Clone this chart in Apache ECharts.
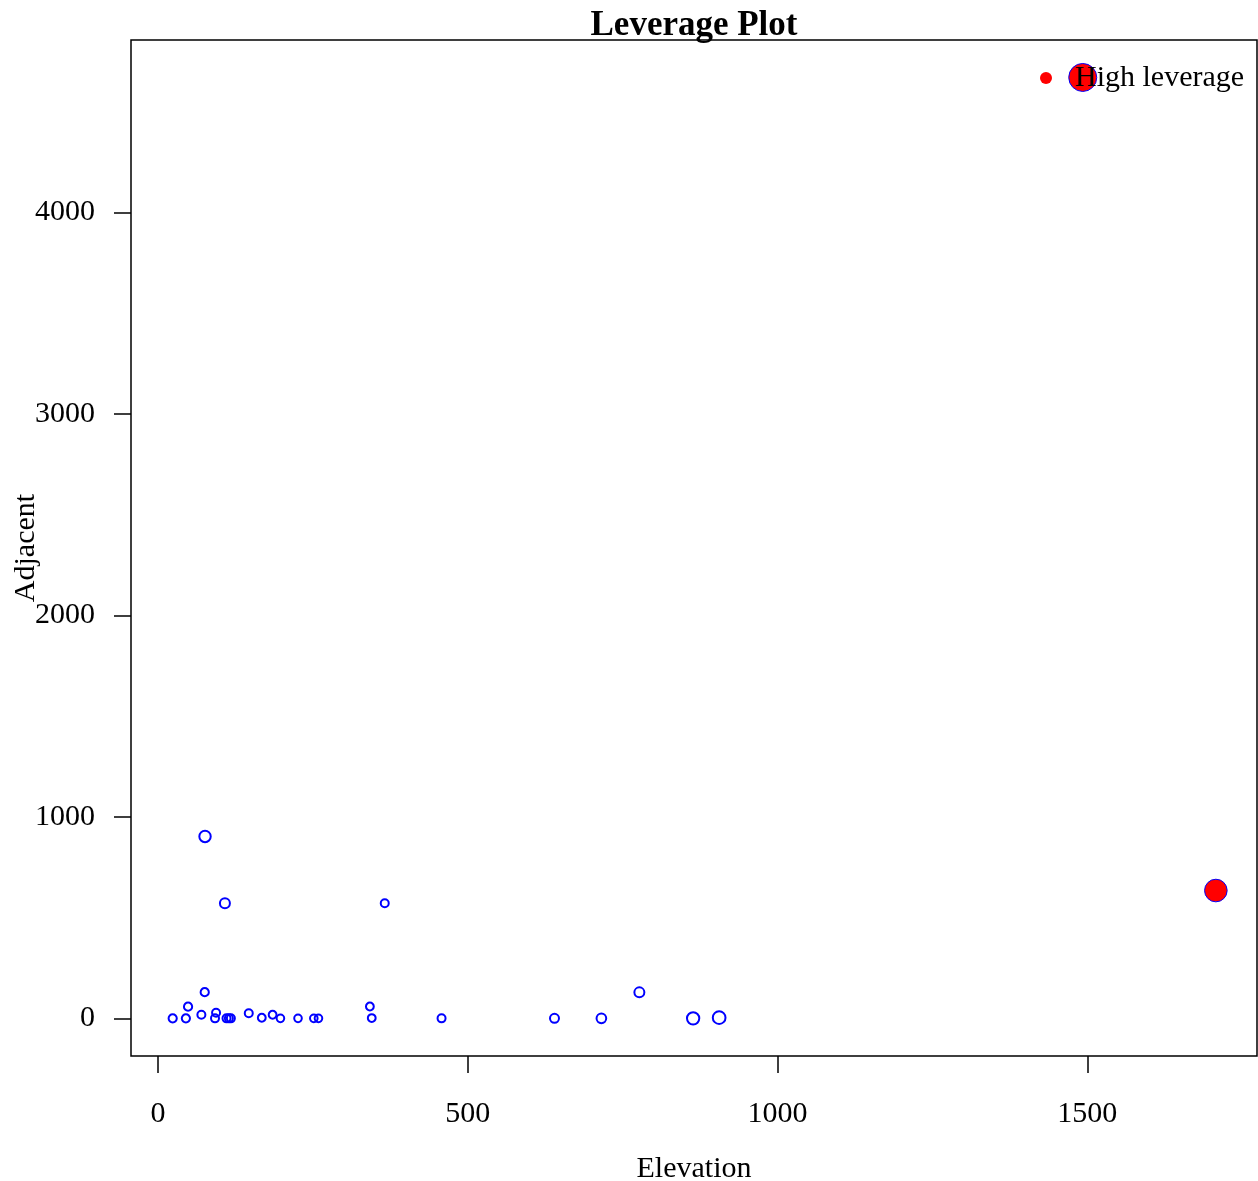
<!DOCTYPE html>
<html>
<head>
<meta charset="utf-8">
<title>Leverage Plot</title>
<script src="https://cdn.jsdelivr.net/npm/echarts@6/dist/echarts.min.js"></script>
<style>
  html, body { margin: 0; padding: 0; background: #ffffff; }
  #chart { width: 1258px; height: 1181px; }
</style>
</head>
<body>
<div id="chart"></div>
<script>
// Ordinary observations
const elevation = [23.7, 45, 48.5, 70, 75.4, 75.9, 92, 93.7, 108, 110.6, 114.4, 117.6,
                   146.5, 167.5, 185, 197.6, 226, 251.5, 259, 342, 345, 366, 457.7,
                   640, 715.7, 777, 863.8, 905.8];
const adjacent  = [0, 0, 58, 18, 130, 903, 0, 28, 571, 0, 0, 0,
                   25, 3, 18, 0, 0, 0, 0, 59, 1.5, 571, 0,
                   0, 0, 129, 0, 3.5];
const leverage  = [0.13, 0.13, 0.13, 0.125, 0.13, 0.21, 0.125, 0.125, 0.175, 0.125, 0.125, 0.125,
                   0.125, 0.12, 0.12, 0.115, 0.115, 0.115, 0.115, 0.12, 0.12, 0.125, 0.125,
                   0.15, 0.167, 0.175, 0.233, 0.243];

// High-leverage observations
const highElevation = [1492.7, 1707.6];
const highAdjacent  = [4670, 634.5];
const highLeverage  = [0.625, 0.49];

const xTicks = [0, 500, 1000, 1500];
const yTicks = [0, 1000, 2000, 3000, 4000];

const FONT = '"Liberation Serif", "DejaVu Serif", serif';
const RING = 2;

// marker diameter grows with leverage
function markerSize(h) {
  return 3 + 40 * h;
}

const normalPts = elevation.map((x, i) => [x, adjacent[i], leverage[i]]);
const highPts = highElevation.map((x, i) => [x, highAdjacent[i], highLeverage[i]]);

const chart = echarts.init(document.getElementById('chart'), null, { renderer: 'canvas' });

chart.setOption({
  animation: false,
  backgroundColor: '#ffffff',
  title: {
    text: 'Leverage Plot',
    left: 689,
    top: 3,
    textAlign: 'center',
    textStyle: { fontFamily: FONT, fontWeight: 'bold', fontSize: 35, color: '#000' }
  },
  legend: {
    data: ['High leverage'],
    left: 1040,
    top: 63,
    padding: 0,
    icon: 'circle',
    itemWidth: 48,
    itemHeight: 12,
    itemStyle: { color: '#ff0000', borderWidth: 0 },
    textStyle: { fontFamily: FONT, fontSize: 30, color: '#000' }
  },
  grid: {
    left: 131, right: 1, top: 40, bottom: 125,
    containLabel: false,
    outerBoundsMode: 'none',
    show: true,
    borderColor: '#000',
    borderWidth: 1.5,
    backgroundColor: 'transparent'
  },
  xAxis: {
    type: 'value',
    min: -43.6,
    max: 1774,
    name: 'Elevation',
    nameLocation: 'middle',
    nameGap: 98,
    nameMoveOverlap: false,
    nameTextStyle: { fontFamily: FONT, fontSize: 30, color: '#000' },
    axisLine: { show: false, onZero: false },
    splitLine: { show: false },
    axisTick: {
      show: true, inside: false, length: 17,
      customValues: xTicks,
      lineStyle: { color: '#000', width: 1.5 }
    },
    axisLabel: {
      customValues: xTicks,
      margin: 43,
      formatter: v => String(v),
      fontFamily: FONT, fontSize: 30, color: '#000'
    }
  },
  yAxis: {
    type: 'value',
    min: -186.8,
    max: 4856,
    name: 'Adjacent',
    nameLocation: 'middle',
    nameGap: 90,
    nameRotate: 90,
    nameMoveOverlap: false,
    nameTextStyle: { fontFamily: FONT, fontSize: 30, color: '#000' },
    axisLine: { show: false, onZero: false },
    splitLine: { show: false },
    axisTick: {
      show: true, inside: false, length: 17,
      customValues: yTicks,
      lineStyle: { color: '#000', width: 1.5 }
    },
    axisLabel: {
      customValues: yTicks,
      margin: 36,
      formatter: v => String(v),
      fontFamily: FONT, fontSize: 30, color: '#000'
    }
  },
  series: [
    {
      name: 'Observations',
      type: 'scatter',
      data: normalPts,
      symbol: 'circle',
      symbolSize: v => markerSize(v[2]),
      itemStyle: { color: 'rgba(0,0,0,0)', borderColor: '#0000ff', borderWidth: RING, opacity: 1 },
      emphasis: { disabled: true },
      z: 2
    },
    {
      name: 'High leverage',
      type: 'scatter',
      data: highPts,
      symbol: 'circle',
      symbolSize: v => markerSize(v[2]),
      itemStyle: { color: '#ff0000', borderColor: '#0000ff', borderWidth: 1, opacity: 1 },
      emphasis: { disabled: true },
      z: 3
    }
  ]
});
</script>
</body>
</html>
